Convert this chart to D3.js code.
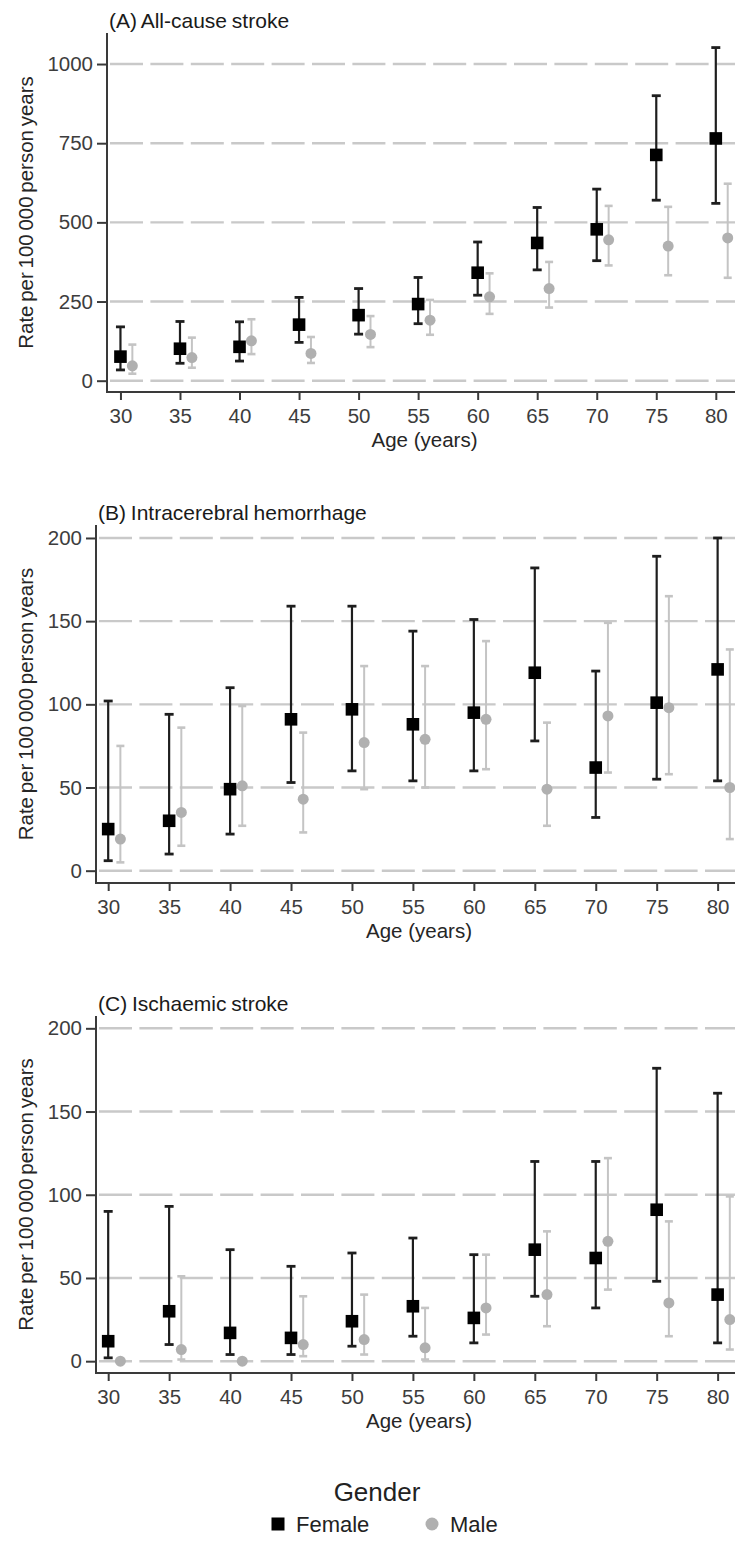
<!DOCTYPE html>
<meta charset="utf-8">
<title>Stroke incidence by age and gender</title>
<style>
  body { margin: 0; background: #fff; }
  svg { display: block; font-family: "Liberation Sans", Arial, sans-serif; }
  .grid line { stroke: #c9c9c9; stroke-width: 2.4; stroke-dasharray: 33 7.4; }
  .axis path, .axis line { stroke: #3a3a3a; stroke-width: 2; }
  .axis text { fill: #3d3d3d; font-size: 20.5px; }
  .ptitle { fill: #1a1a1a; font-size: 21px; word-spacing: -1px; }
  .xlab, .ylab { fill: #262626; font-size: 20.5px; }
</style>
<body>
<script src="https://cdn.jsdelivr.net/npm/d3@7"></script>
<script>
  // ages at which the rates were estimated; male points sit one year to the right
  const ages = [30, 35, 40, 45, 50, 55, 60, 65, 70, 75, 80];

  // (A) all-cause stroke
  const aFemale = [76, 101, 107, 177, 207, 242, 341, 435, 478, 713, 765];
  const aFemaleLo = [34, 55, 62, 121, 147, 180, 270, 350, 379, 570, 560];
  const aFemaleHi = [170, 187, 186, 263, 291, 326, 438, 547, 605, 900, 1052];
  const aMale = [47, 73, 126, 86, 146, 191, 265, 291, 445, 425, 451];
  const aMaleLo = [22, 41, 84, 56, 106, 145, 211, 231, 364, 333, 325];
  const aMaleHi = [114, 136, 194, 138, 204, 255, 339, 375, 552, 549, 622];

  // (B) intracerebral hemorrhage
  const bFemale = [25, 30, 49, 91, 97, 88, 95, 119, 62, 101, 121];
  const bFemaleLo = [6, 10, 22, 53, 60, 54, 60, 78, 32, 55, 54];
  const bFemaleHi = [102, 94, 110, 159, 159, 144, 151, 182, 120, 189, 200];
  const bMale = [19, 35, 51, 43, 77, 79, 91, 49, 93, 98, 50];
  const bMaleLo = [5, 15, 27, 23, 49, 50, 61, 27, 59, 58, 19];
  const bMaleHi = [75, 86, 99, 83, 123, 123, 138, 89, 149, 165, 133];

  // (C) ischaemic stroke
  const cFemale = [12, 30, 17, 14, 24, 33, 26, 67, 62, 91, 40];
  const cFemaleLo = [2, 10, 4, 4, 9, 15, 11, 39, 32, 48, 11];
  const cFemaleHi = [90, 93, 67, 57, 65, 74, 64, 120, 120, 176, 161];
  const cMale = [0, 7, 0, 10, 13, 8, 32, 40, 72, 35, 25];
  const cMaleLo = [0, 1, 0, 3, 4, 1, 16, 21, 43, 15, 7];
  const cMaleHi = [0, 51, 0, 39, 40, 32, 64, 78, 122, 84, 99];

  const xTicks = ages;
  const aTicks = [0, 250, 500, 750, 1000];
  const bcTicks = [0, 50, 100, 150, 200];

  const genders = ["Female", "Male"];

  var width = 735,
    height = 1541;

  var svg = d3.select("body").append("svg")
    .attr("width", width)
    .attr("height", height);

  function rows(est, lo, hi, shift) {
    return ages.map((a, i) => ({ age: a + shift, est: est[i], lo: lo[i], hi: hi[i] }));
  }

  var panels = [
    {
      title: "(A) All-cause stroke", left: 107, top: 33, bottom: 392,
      xdom: [28.87, 82.2], ydom: [-35.7, 1098], ticks: aTicks,
      female: rows(aFemale, aFemaleLo, aFemaleHi, 0), male: rows(aMale, aMaleLo, aMaleHi, 1)
    },
    {
      title: "(B) Intracerebral hemorrhage", left: 96, top: 525, bottom: 883,
      xdom: [29.0, 82.0], ydom: [-7.4, 207.8], ticks: bcTicks,
      female: rows(bFemale, bFemaleLo, bFemaleHi, 0), male: rows(bMale, bMaleLo, bMaleHi, 1)
    },
    {
      title: "(C) Ischaemic stroke", left: 96, top: 1016, bottom: 1373,
      xdom: [29.0, 82.0], ydom: [-7.1, 207.4], ticks: bcTicks,
      female: rows(cFemale, cFemaleLo, cFemaleHi, 0), male: rows(cMale, cMaleLo, cMaleHi, 1)
    }
  ];

  var right = 742;

  panels.forEach(p => {
    var x = d3.scaleLinear().domain(p.xdom).range([p.left, right]);
    var y = d3.scaleLinear().domain(p.ydom).range([p.bottom, p.top]);
    var g = svg.append("g");

    // dashed horizontal grid
    g.append("g").attr("class", "grid")
      .selectAll("line").data(p.ticks)
      .enter().append("line")
      .attr("x1", p.left + 3).attr("x2", width)
      .attr("y1", d => y(d)).attr("y2", d => y(d));

    // error bars
    function bars(data, cls, colour, lw, cap) {
      var eb = g.append("g").attr("class", cls);
      eb.selectAll("line.v").data(data).enter().append("line")
        .attr("class", "v")
        .attr("x1", d => x(d.age)).attr("x2", d => x(d.age))
        .attr("y1", d => y(d.lo)).attr("y2", d => y(d.hi))
        .attr("stroke", colour).attr("stroke-width", lw);
      ["lo", "hi"].forEach(k => {
        eb.selectAll("line." + k).data(data.filter(d => d.hi > d.lo)).enter().append("line")
          .attr("class", k)
          .attr("x1", d => x(d.age) - cap / 2).attr("x2", d => x(d.age) + cap / 2)
          .attr("y1", d => y(d[k])).attr("y2", d => y(d[k]))
          .attr("stroke", colour).attr("stroke-width", lw + 0.6);
      });
    }
    bars(p.male, "male-bars", "#c4c4c4", 2, 8);
    bars(p.female, "female-bars", "#1e1e1e", 2.2, 9);

    g.append("g").selectAll("circle").data(p.male)
      .enter().append("circle")
      .attr("cx", d => x(d.age)).attr("cy", d => y(d.est))
      .attr("r", 5.5).attr("fill", "#b0b0b0");

    g.append("g").selectAll("rect").data(p.female)
      .enter().append("rect")
      .attr("x", d => x(d.age) - 6.3).attr("y", d => y(d.est) - 6.3)
      .attr("width", 12.6).attr("height", 12.6).attr("fill", "#000");

    // axes
    var ax = g.append("g").attr("class", "axis")
      .attr("transform", `translate(${p.left},0)`)
      .call(d3.axisLeft(y).tickValues(p.ticks).tickFormat(d3.format("d"))
        .tickSize(10).tickSizeOuter(0).tickPadding(4));
    ax.select(".domain").attr("d", `M0,${p.top}V${p.bottom}`);

    var bx = g.append("g").attr("class", "axis")
      .attr("transform", `translate(0,${p.bottom})`)
      .call(d3.axisBottom(x).tickValues(xTicks).tickSize(8).tickSizeOuter(0).tickPadding(8));
    bx.select(".domain").attr("d", `M${p.left - 1},0H${width}`);

    g.append("text").attr("class", "ptitle")
      .attr("x", p.left + 2).attr("y", p.top - 5)
      .text(p.title);

    g.append("text").attr("class", "xlab")
      .attr("x", (p.left + right) / 2).attr("y", p.bottom + 55)
      .attr("text-anchor", "middle")
      .text("Age (years)");

    g.append("text").attr("class", "ylab")
      .attr("transform", `translate(33,${(p.top + p.bottom) / 2}) rotate(-90)`)
      .attr("text-anchor", "middle")
      .attr("word-spacing", "-2px")
      .text("Rate per 100 000 person years");
  });

  // legend
  var leg = svg.append("g").attr("class", "legend");
  leg.append("text")
    .attr("x", 377).attr("y", 1501)
    .attr("text-anchor", "middle")
    .attr("font-size", 26).attr("fill", "#222")
    .text("Gender");

  var item = leg.selectAll("g.item").data(genders)
    .enter().append("g").attr("class", "item")
    .attr("transform", (d, i) => `translate(${i === 0 ? 278 : 432},1524)`);
  item.each(function (d, i) {
    var s = d3.select(this);
    if (i === 0) {
      s.append("rect").attr("x", -6.5).attr("y", -6.5).attr("width", 13).attr("height", 13).attr("fill", "#000");
    } else {
      s.append("circle").attr("r", 6.5).attr("fill", "#b0b0b0");
    }
    s.append("text").attr("x", 18).attr("y", 8)
      .attr("font-size", 22).attr("fill", "#222")
      .text(d);
  });
</script>
